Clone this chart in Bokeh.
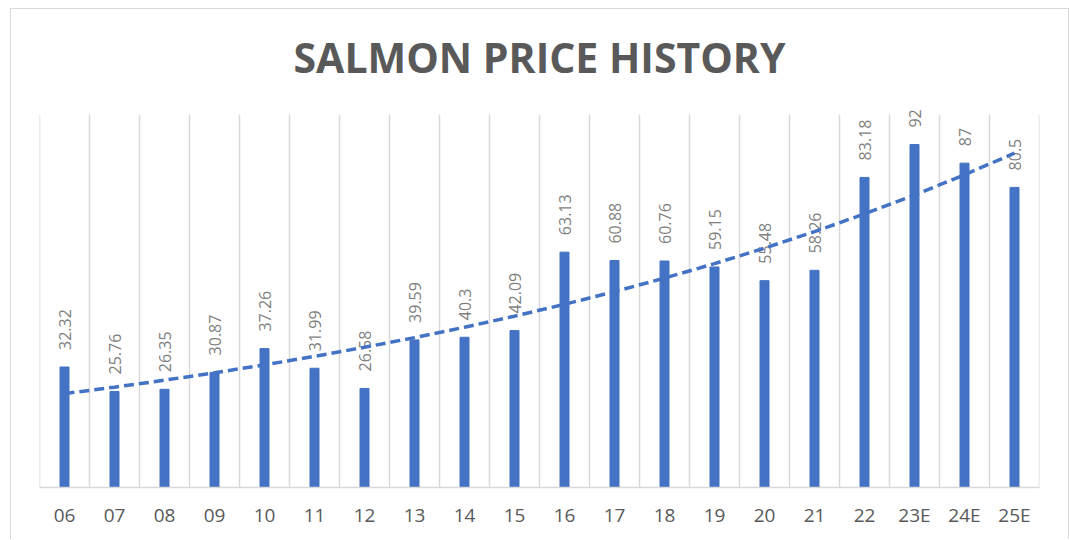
import numpy as np
from bokeh.plotting import figure
from bokeh.models import FixedTicker, Range1d, ColumnDataSource
from bokeh.embed import file_html
from bokeh.resources import INLINE
from bokeh.core.properties import value

years = ["06", "07", "08", "09", "10", "11", "12", "13", "14", "15",
         "16", "17", "18", "19", "20", "21", "22", "23E", "24E", "25E"]
prices = [32.32, 25.76, 26.35, 30.87, 37.26, 31.99, 26.58, 39.59, 40.3, 42.09,
          63.13, 60.88, 60.76, 59.15, 55.48, 58.26, 83.18, 92, 87, 80.5]
title_text = "SALMON PRICE HISTORY"

n = len(years)
idx = np.arange(n)
# Exponential trendline (least squares on log values), as in a spreadsheet
b, a = np.polyfit(idx, np.log(prices), 1)
trend = np.exp(a + b * idx)

src = ColumnDataSource(dict(x=idx, y=prices, lab=[f"{v:g}" for v in prices]))
bounds = [i - 0.5 for i in range(n + 1)]

p = figure(width=1059, height=531,
           x_range=Range1d(-0.5, n - 0.5), y_range=Range1d(0, 125),
           output_backend="svg", toolbar_location=None, y_axis_location=None,
           min_border_left=28, min_border_right=31, min_border_top=12,
           min_border_bottom=53)
p.styles = {"margin-left": "10px", "margin-top": "8px",
            "border-top": "1.5px solid #d9d9d9", "border-left": "1.5px solid #d9d9d9",
            "border-right": "1.5px solid #d9d9d9"}
p.outline_line_color = None
p.background_fill_color = "white"
p.border_fill_color = "white"
p.xgrid.visible = False
p.ygrid.visible = False

# category separator lines, up to the top of the value scale (100)
p.segment(x0=bounds, y0=[0] * len(bounds), x1=bounds, y1=[100] * len(bounds),
          line_color="#d9d9d9", line_width=1.5)

p.vbar(x="x", top="y", width=0.18, source=src, color="#4472C4")
p.text(x="x", y="y", text="lab", source=src, angle=np.pi / 2, text_align="left",
       text_baseline="middle", y_offset=-17, text_font=value("Open Sans"),
       text_font_size="16px", text_color="#7f7f7f")
p.line(x=idx, y=trend, line_color="#4472C4", line_width=3.5, line_dash="10 5")

p.text(x=[(n - 1) / 2], y=[115.5], text=[title_text], text_align="center",
       text_baseline="middle", text_font=value("Open Sans"), text_font_style="bold",
       text_font_size="41px", text_color="#595959")

ax = p.xaxis[0]
ax.ticker = FixedTicker(ticks=list(range(n)))
ax.major_label_overrides = {i: y for i, y in enumerate(years)}
ax.axis_line_color = "#d9d9d9"
ax.axis_line_width = 1.5
ax.major_tick_line_color = None
ax.minor_tick_line_color = None
ax.major_label_text_font = "Open Sans"
ax.major_label_text_font_size = "19px"
ax.major_label_text_color = "#595959"
ax.major_label_standoff = 8

open("out.html", "w").write(file_html(p, INLINE))
